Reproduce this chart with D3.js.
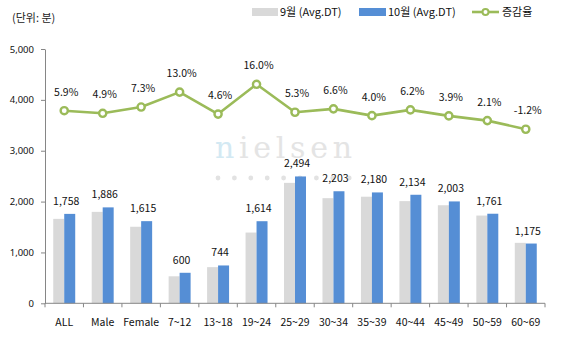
<!DOCTYPE html>
<html>
<head>
<meta charset="utf-8">
<script src="https://cdn.jsdelivr.net/npm/d3@7"></script>
<style>
  html, body { margin: 0; padding: 0; background: #fff; }
  svg { display: block; font-family: "Noto Sans CJK KR", "Noto Sans", sans-serif; }
</style>
</head>
<body>
<svg id="chart" width="562" height="338"></svg>
<script>
// Average daily time (minutes) by group, September vs October, and month-over-month change
const categories = ["ALL", "Male", "Female", "7~12", "13~18", "19~24", "25~29", "30~34", "35~39", "40~44", "45~49", "50~59", "60~69"];
const septValues = [1660, 1798, 1505, 531, 711, 1391, 2368, 2067, 2096, 2009, 1928, 1725, 1189];
const octValues  = [1758, 1886, 1615, 600, 744, 1614, 2494, 2203, 2180, 2134, 2003, 1761, 1175];
const changePct  = [5.9, 4.9, 7.3, 13.0, 4.6, 16.0, 5.3, 6.6, 4.0, 6.2, 3.9, 2.1, -1.2];
const yTicks = [0, 1000, 2000, 3000, 4000, 5000];
const seriesNames = ["9월 (Avg.DT)", "10월 (Avg.DT)", "증감율"];

const colors = { sept: "#d9d9d9", oct: "#558ed5", change: "#9bbb59", axis: "#868686" };

const svg = d3.select("#chart");
const plot = { left: 45, right: 545, top: 49, bottom: 303.3 };

const x = d3.scaleBand().domain(categories).range([plot.left, plot.right]).paddingInner(0).paddingOuter(0);
const xSub = d3.scaleBand().domain(["sept", "oct"]).range([0, x.bandwidth()]).paddingInner(0).paddingOuter(0.75);
const y = d3.scaleLinear().domain([0, 5000]).range([plot.bottom, plot.top]);
// secondary (hidden) axis for the percent line
const yPct = d3.scaleLinear().domain([-67.8, 29.5]).range([plot.bottom, plot.top]);

// unit note
svg.append("text").attr("x", 12).attr("y", 22).attr("font-size", 11).attr("fill", "#222").text("(단위: 분)");

// watermark
const wm = svg.append("g").attr("class", "watermark");
const wmText = wm.append("text")
  .attr("x", 215).attr("y", 158)
  .attr("font-family", "'DejaVu Serif', 'Liberation Serif', serif")
  .attr("font-size", 30)
  .attr("textLength", 137).attr("lengthAdjust", "spacing");
wmText.append("tspan").attr("fill", "#d3e9f3").text("n");
wmText.append("tspan").attr("fill", "#e4e4e4").text("ielsen");
wm.selectAll("circle").data(d3.range(9)).join("circle")
  .attr("cx", i => 218 + i * 16.4).attr("cy", 178).attr("r", 2.4).attr("fill", "#e2e2e2");

// bars
const groups = svg.append("g").selectAll("g").data(categories).join("g")
  .attr("transform", d => `translate(${x(d)},0)`);
groups.append("rect")
  .attr("x", xSub("sept")).attr("width", xSub.bandwidth())
  .attr("y", (d, i) => y(septValues[i])).attr("height", (d, i) => y(0) - y(septValues[i]))
  .attr("fill", colors.sept);
groups.append("rect")
  .attr("x", xSub("oct")).attr("width", xSub.bandwidth())
  .attr("y", (d, i) => y(octValues[i])).attr("height", (d, i) => y(0) - y(octValues[i]))
  .attr("fill", colors.oct);
groups.append("text")
  .attr("x", x.bandwidth() / 2 + 2).attr("y", (d, i) => y(octValues[i]) - 9)
  .attr("text-anchor", "middle").attr("font-size", 10.5).attr("fill", "#111")
  .text((d, i) => d3.format(",")(octValues[i]));

// y axis
const yAxis = svg.append("g").attr("transform", `translate(${plot.left},0)`)
  .call(d3.axisLeft(y).tickValues(yTicks).tickSize(4).tickSizeOuter(0).tickPadding(7).tickFormat(d3.format(",")));
yAxis.selectAll("path, line").attr("stroke", colors.axis);
yAxis.selectAll("text").attr("font-size", 9.5).attr("fill", "#111").attr("font-family", "'Noto Sans', sans-serif");

// x axis
const xAxis = svg.append("g");
xAxis.append("line").attr("x1", plot.left).attr("x2", plot.right).attr("y1", y(0)).attr("y2", y(0)).attr("stroke", colors.axis);
const bounds = categories.map(c => x(c)).concat([x(categories[categories.length - 1]) + x.bandwidth()]);
xAxis.selectAll("line.tick").data(bounds).join("line").attr("class", "tick")
  .attr("x1", d => d).attr("x2", d => d).attr("y1", y(0)).attr("y2", y(0) + 4).attr("stroke", colors.axis);
xAxis.selectAll("text").data(categories).join("text")
  .attr("x", d => x(d) + x.bandwidth() / 2).attr("y", 326)
  .attr("text-anchor", "middle").attr("font-size", 10.5).attr("fill", "#111")
  .text(d => d);

// change line
const line = d3.line().x((d, i) => x(categories[i]) + x.bandwidth() / 2).y(d => yPct(d));
svg.append("path").datum(changePct).attr("d", line)
  .attr("fill", "none").attr("stroke", colors.change).attr("stroke-width", 2.6).attr("stroke-linejoin", "round");
svg.append("g").selectAll("circle").data(changePct).join("circle")
  .attr("cx", (d, i) => x(categories[i]) + x.bandwidth() / 2).attr("cy", d => yPct(d))
  .attr("r", 3.6).attr("fill", "#fff").attr("stroke", colors.change).attr("stroke-width", 2.4);
svg.append("g").selectAll("text").data(changePct).join("text")
  .attr("x", (d, i) => x(categories[i]) + x.bandwidth() / 2 + 2).attr("y", d => yPct(d) - 15)
  .attr("text-anchor", "middle").attr("font-size", 10.5).attr("fill", "#111")
  .text(d => d.toFixed(1) + "%");

// legend
const legend = svg.append("g").attr("font-size", 11).attr("fill", "#111");
legend.append("rect").attr("x", 252).attr("y", 8).attr("width", 26).attr("height", 8).attr("fill", colors.sept);
legend.append("text").attr("x", 280).attr("y", 16).text(seriesNames[0]);
legend.append("rect").attr("x", 359).attr("y", 8).attr("width", 27).attr("height", 8).attr("fill", colors.oct);
legend.append("text").attr("x", 388).attr("y", 16).text(seriesNames[1]);
legend.append("line").attr("x1", 472).attr("x2", 499).attr("y1", 12).attr("y2", 12).attr("stroke", colors.change).attr("stroke-width", 2.6);
legend.append("circle").attr("cx", 485.5).attr("cy", 12).attr("r", 3).attr("fill", "#fff").attr("stroke", colors.change).attr("stroke-width", 2);
legend.append("text").attr("x", 502).attr("y", 16).text(seriesNames[2]);
</script>
</body>
</html>
